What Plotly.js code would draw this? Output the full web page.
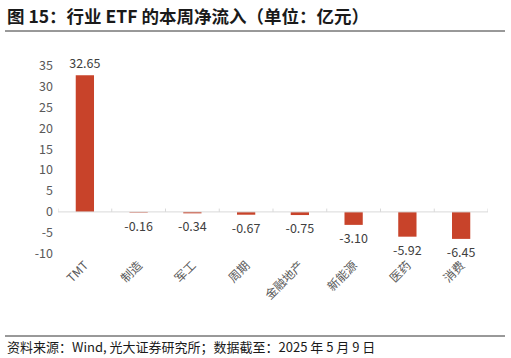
<!DOCTYPE html>
<html><head><meta charset="utf-8">
<script src="https://cdn.plot.ly/plotly-3.0.1.min.js"></script>
<style>body{margin:0;background:#fff;}#c{width:511px;height:358px;}</style>
</head><body><div id="c"></div>
<script>
const categories = ["TMT","制造","军工","周期","金融地产","新能源","医药","消费"];
const values = [32.65,-0.16,-0.34,-0.67,-0.75,-3.10,-5.92,-6.45];
const yTicks = [-10,-5,0,5,10,15,20,25,30,35];

const FONT = '"Noto Sans CJK SC", "Noto Sans", sans-serif';
const W = 511, H = 358, ML = 58, MR = 23, MT = 63, MB = 103;
const plotH = H - MT - MB, plotW = W - ML - MR;
const yAt = px => (H - MB - px) / plotH;
const xAt = px => (px - ML) / plotW;

const shapes = [];
for (let i = 0; i <= categories.length; i++) {
  shapes.push({type:'line', xref:'x', yref:'y', x0:i-0.5, x1:i-0.5, y0:0, y1:0.8,
    line:{color:'#d9d9d9', width:1}});
}
shapes.push({type:'line', xref:'x', yref:'y', x0:-0.5, x1:categories.length-0.5, y0:0, y1:0,
  line:{color:'#d9d9d9', width:1}});
shapes.push({type:'line', xref:'paper', yref:'paper', x0:xAt(5), x1:xAt(505), y0:yAt(31), y1:yAt(31),
  line:{color:'#333', width:1}});
shapes.push({type:'line', xref:'paper', yref:'paper', x0:xAt(5), x1:xAt(505), y0:yAt(336), y1:yAt(336),
  line:{color:'#333', width:1}});

Plotly.newPlot('c', [{
  type:'bar', x:categories, y:values,
  marker:{color:'#C8432A'}, width:0.34,
  text:values.map(v=>v.toFixed(2)), textposition:'outside', cliponaxis:false,
  constraintext:'none',
  textfont:{family:FONT, size:12.5, color:'#404040'}
}], {
  width:W, height:H,
  margin:{l:ML, r:MR, t:MT, b:MB},
  paper_bgcolor:'#fff', plot_bgcolor:'#fff',
  showlegend:false,
  font:{family:FONT, color:'#595959'},
  xaxis:{showgrid:false, showline:false, zeroline:false, ticks:'', tickangle:-45,
    range:[-0.5, categories.length-0.5],
    tickfont:{family:FONT, size:12, color:'#595959'}},
  yaxis:{range:[-10.3, 35.6], tickvals:yTicks, ticktext:yTicks.map(String), showgrid:false,
    zeroline:false, showline:false, ticks:'', ticklabelstandoff:4,
    tickfont:{family:FONT, size:12.5, color:'#595959'}},
  shapes:shapes,
  annotations:[
    {xref:'paper', yref:'paper', x:xAt(5), y:yAt(16), xanchor:'left', yanchor:'middle', showarrow:false,
     text:'<b>图 15：行业 ETF 的本周净流入（单位：亿元）</b>', font:{family:FONT, size:17.5, color:'#1a1a1a'}},
    {xref:'paper', yref:'paper', x:xAt(5), y:yAt(346), xanchor:'left', yanchor:'middle', showarrow:false,
     text:'资料来源：Wind, 光大证券研究所；数据截至：2025 年 5 月 9 日', font:{family:FONT, size:13, color:'#1a1a1a'}}
  ]
}, {staticPlot:true});
</script></body></html>
